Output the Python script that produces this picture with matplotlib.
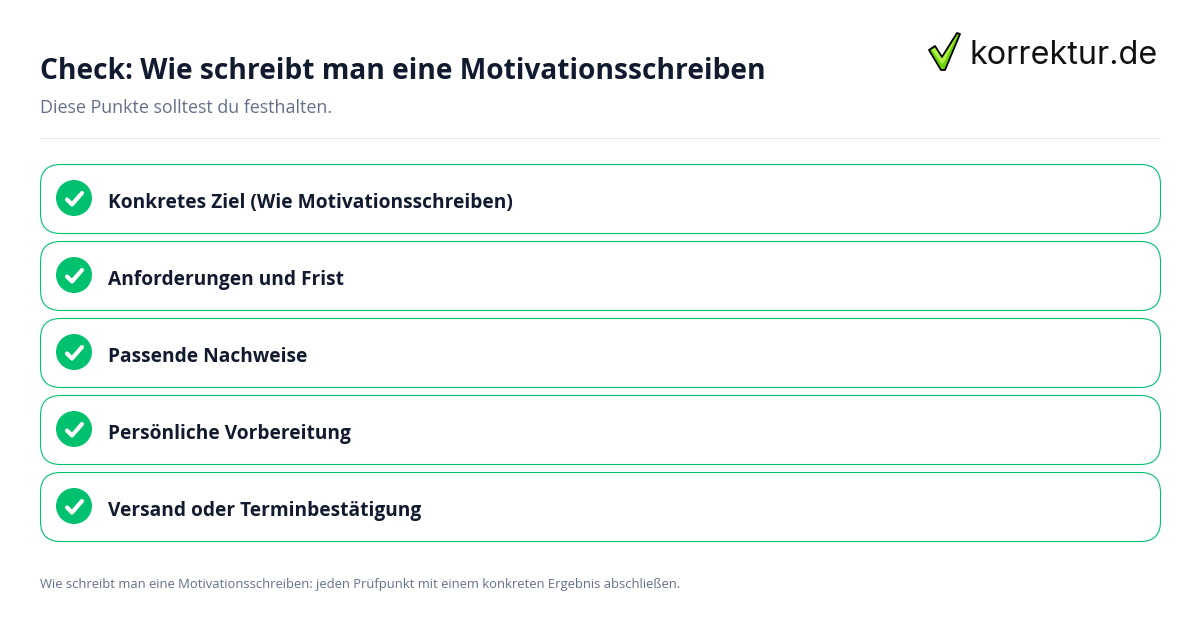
import matplotlib
matplotlib.use('Agg')
from matplotlib import pyplot as plt
from matplotlib.patches import FancyBboxPatch, Circle, Polygon

title = "Check: Wie schreibt man eine Motivationsschreiben"
subtitle = "Diese Punkte solltest du festhalten."
items = [
    "Konkretes Ziel (Wie Motivationsschreiben)",
    "Anforderungen und Frist",
    "Passende Nachweise",
    "Persönliche Vorbereitung",
    "Versand oder Terminbestätigung",
]
footer = "Wie schreibt man eine Motivationsschreiben: jeden Prüfpunkt mit einem konkreten Ergebnis abschließen."
logo_text = "korrektur.de"

GREEN = '#00c26e'
DARK = '#111a2e'
GREY = '#64708a'

plt.rcParams['font.family'] = ['Open Sans', 'DejaVu Sans']

fig = plt.figure(figsize=(12, 6.3), dpi=100, facecolor='white')
ax = fig.add_axes([0, 0, 1, 1])
ax.set_xlim(0, 1200)
ax.set_ylim(630, 0)
ax.axis('off')

# Шапка
ax.text(40, 71.5, title, fontsize=20.26, fontweight='bold', color=DARK, va='center')
ax.text(40, 108, subtitle, fontsize=12.85, color=GREY, va='center')
ax.plot([40, 1160], [138, 138], color='#e6e9ee', lw=0.8)

# Логотип
ax.add_patch(Polygon([(929, 50), (935, 46), (942, 57), (957, 33), (960, 34),
                      (945, 70), (941, 70)],
                     facecolor='#6fd40c', edgecolor='black', lw=1.3, joinstyle='round'))
ax.add_patch(Polygon([(932, 50), (935, 48), (942, 59), (957, 36), (944, 62), (942, 64)],
                     facecolor='#b4f04a', edgecolor='none'))
ax.text(970, 56, logo_text, fontsize=23.3, color='#111111', va='center',
        family=['Inter', 'DejaVu Sans'])

# Карточки
for i, label in enumerate(items):
    top = 164.5 + i * 77
    ax.add_patch(FancyBboxPatch((40.5, top), 1120, 69,
                                boxstyle='round,pad=0,rounding_size=20',
                                facecolor='white', edgecolor=GREEN, lw=0.8))
    cy = top + 33.5
    ax.add_patch(Circle((74, cy), 18, facecolor=GREEN, edgecolor='none'))
    ax.plot([67, 72, 82], [cy + 1.5, cy + 6.5, cy - 5], color='white', lw=3,
            solid_capstyle='round', solid_joinstyle='round')
    ax.text(108, top + 38.5, label, fontsize=13.77, fontweight='bold', color=DARK, va='center')

ax.text(40, 584.6, footer, fontsize=9.37, color=GREY, va='center')

fig.savefig('out.png', dpi=100)
